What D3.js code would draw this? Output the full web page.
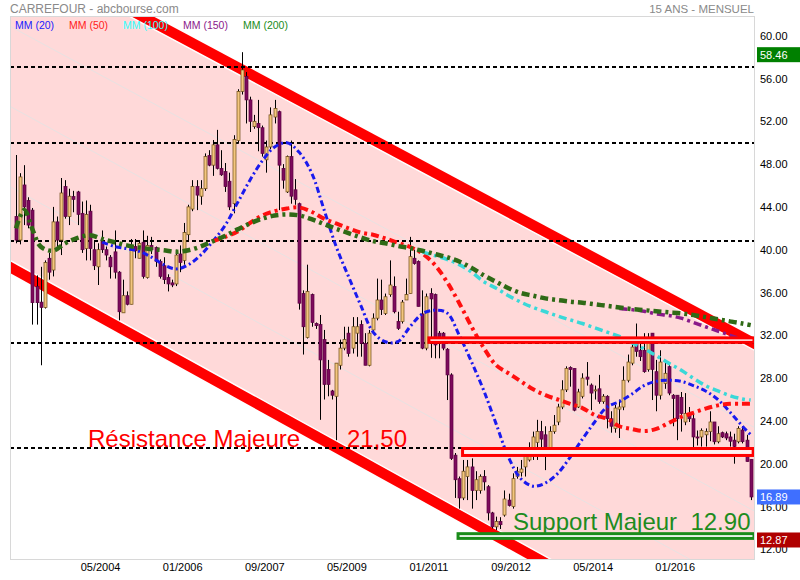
<!DOCTYPE html>
<html><head><meta charset="utf-8">
<script src="https://cdn.jsdelivr.net/npm/d3@7"></script>
<style>
body{margin:0;background:#fff;}
svg{display:block;font-family:Arial,"Liberation Sans",sans-serif;}
</style>
</head><body>
<svg id="chart" width="800" height="580"></svg>
<script>
// ---- DATA (monthly candles, month index 0 = 09/2002) ----
const opens = [43.1,40.9,46.05,44.6,43.7,36.55,35.1,34.6,39.2,38.1,42.6,40.9,45.9,43.1,44.96,45.4,43.4,40.1,43.6,40.0,
38.4,40.8,40.0,39.3,39.8,37.9,34.1,35.7,34.9,40.3,39.2,40.7,37.4,40.4,40.2,38.9,38.5,37.4,36.9,36.8,
39.6,39.0,41.4,43.8,45.9,45.0,45.7,48.8,47.9,49.8,47.6,47.3,46.4,44.3,50.2,54.8,56.2,54.0,51.5,51.8,
51.4,48.4,49.6,52.4,52.9,47.6,45.4,48.7,45.6,44.3,35.9,31.8,35.8,33.1,33.0,31.6,28.8,26.8,26.3,29.2,
30.8,32.2,30.8,32.2,33.0,31.25,29.2,32.5,33.6,35.3,34.05,35.8,36.55,33.3,33.3,35.3,35.9,39.2,38.9,34.0,
30.8,35.9,35.8,32.2,32.2,30.7,28.3,20.8,18.6,16.8,18.8,19.7,17.5,17.5,18.8,17.85,15.4,14.1,14.6,15.2,
16.6,16.0,18.8,19.2,19.7,20.35,21.0,22.0,23.0,22.7,21.3,23.0,23.9,25.3,26.9,29.0,28.9,25.3,26.3,28.1,
27.35,26.8,27.0,25.8,26.3,24.2,23.3,25.1,25.3,27.8,29.4,31.3,30.6,30.6,28.8,32.2,28.6,26.4,27.5,29.07,
26.4,26.4,26.2,23.9,24.5,24.2,22.5,22.5,22.7,23.0,23.9,22.05,22.9,22.8,22.5,22.2,22.05,23.15,22.2,20.4];
const highs = [48.85,47.15,47.9,44.9,43.9,37.6,38.4,39.0,39.7,44.0,43.1,46.7,46.5,45.7,45.5,45.5,44.5,44.6,44.2,40.9,
40.6,41.8,40.3,39.5,41.8,38.0,37.2,36.1,41.0,41.0,40.9,41.8,41.3,41.2,40.3,39.1,39.3,37.7,37.2,40.0,
40.4,42.5,44.2,46.5,46.5,46.5,49.0,49.3,50.25,51.2,49.3,48.1,47.2,50.7,55.0,58.46,56.6,54.3,52.6,54.0,
51.6,50.2,53.3,54.0,53.0,48.0,48.8,50.2,46.6,44.4,36.2,38.6,35.9,33.2,33.9,32.5,29.7,26.9,29.4,31.6,
32.8,32.8,33.7,33.7,33.4,32.2,32.5,34.05,37.3,37.2,35.9,39.0,37.5,34.2,35.3,37.3,41.2,40.0,39.0,36.2,
35.9,36.4,35.9,32.4,32.3,30.8,28.45,21.0,18.8,20.35,20.35,20.5,19.3,19.0,19.4,18.0,15.5,15.05,15.0,17.5,
17.2,19.1,19.7,20.35,21.3,22.0,23.0,24.1,24.0,23.5,23.5,24.55,25.6,27.8,29.1,29.1,28.9,27.0,28.45,29.5,
27.5,27.3,28.3,26.5,26.4,24.9,25.5,26.0,29.1,30.2,31.5,33.1,31.2,32.2,32.2,32.2,29.7,30.6,29.5,29.4,
26.5,26.4,26.7,26.6,25.3,24.7,23.1,23.3,23.3,24.9,23.9,23.5,23.0,23.0,23.0,22.8,23.5,23.5,22.7,20.4];
const lows = [40.6,40.5,42.3,42.0,33.0,33.0,29.2,34.5,37.2,37.5,40.0,39.5,42.9,42.3,43.5,42.3,39.7,39.0,39.0,38.1,
36.7,39.7,39.0,37.3,37.3,33.4,34.1,34.8,34.9,39.2,39.2,37.3,37.3,39.6,38.4,37.3,36.8,36.1,36.5,36.6,
37.9,38.6,40.9,43.6,43.7,44.2,45.5,47.8,46.9,47.5,46.9,45.4,43.7,43.4,49.9,54.5,51.8,51.0,51.3,49.2,
48.7,47.2,49.4,51.8,43.7,45.7,45.3,44.3,44.2,34.4,30.2,31.7,32.8,32.6,24.1,26.0,26.3,26.0,22.2,28.8,
30.6,30.0,30.3,30.0,30.0,29.2,29.1,32.3,33.4,33.9,33.9,35.6,34.05,32.5,33.1,35.3,35.9,38.6,34.7,30.7,
30.6,29.9,29.85,29.85,30.6,25.95,20.35,16.8,15.8,16.6,16.6,15.8,16.6,17.2,17.5,14.7,13.95,13.8,13.9,15.05,
16.0,15.8,18.6,18.8,18.8,20.2,20.35,20.35,21.3,19.4,21.0,22.8,23.6,25.1,26.7,27.2,24.9,25.2,26.1,27.3,
25.0,26.0,25.6,25.6,23.3,22.9,22.9,22.4,25.0,27.6,29.2,30.0,29.6,28.5,28.6,25.95,24.9,26.0,27.0,26.4,
23.5,22.2,23.0,23.6,23.9,20.8,21.7,21.6,21.6,22.1,21.8,21.9,22.4,22.2,21.6,20.0,21.9,21.9,20.2,16.6];
const closes = [40.9,46.8,44.0,42.3,35.05,35.05,34.6,38.8,37.9,42.6,40.9,45.3,43.1,45.0,44.7,43.3,40.0,43.3,40.1,38.5,
40.0,40.0,39.5,38.4,37.9,34.2,35.7,34.9,40.4,39.9,40.6,37.5,40.4,40.0,38.9,37.5,37.2,36.8,36.7,39.5,
38.8,41.6,44.0,45.9,45.1,45.7,48.7,47.9,49.8,47.6,47.0,45.9,44.0,50.3,54.8,56.8,54.0,52.0,52.0,51.4,
49.0,49.6,52.6,53.2,47.9,46.5,48.7,45.0,44.7,35.0,32.8,36.1,33.2,32.9,29.7,27.4,27.4,26.4,29.4,30.8,
31.6,30.3,32.8,32.8,31.25,29.2,32.2,33.6,35.3,34.4,35.6,36.7,34.2,32.65,35.1,35.8,39.35,38.7,34.7,30.8,
35.6,35.4,31.1,31.7,30.8,28.3,20.5,18.5,16.8,19.3,19.7,17.5,18.5,18.8,18.3,15.4,14.1,14.6,14.3,16.7,
16.1,18.6,19.25,19.5,20.7,21.0,22.5,23.0,22.3,21.3,23.0,23.6,25.3,26.9,28.9,28.8,25.0,26.7,28.0,27.9,
26.6,26.9,25.8,26.3,24.2,23.5,25.2,25.3,27.8,29.5,30.9,30.5,30.0,28.6,31.5,28.8,26.4,29.5,28.45,26.6,
26.1,24.2,24.7,24.7,24.2,22.5,22.4,23.1,23.0,23.9,22.05,22.8,22.5,22.4,22.1,21.6,23.3,22.06,20.2,16.89];

// moving averages, read at these month indices
const maMonths = [0,2,4,6,9,12,15,18,21,24,27,30,33,36,39,42,45,48,51,54,57,60,63,66,69,72,75,78,81,84,87,90,93,96,99,102,105,108,111,114,117,120,123,126,129,132,135,138,141,144,147,150,153,156,159,162,165,168,171,174,177,179];
const ma20 = [null,null,null,null,null,null,null,null,40.7,40.3,40.1,39.85,39.3,38.6,38.2,38.6,39.5,40.8,42.3,44.4,46.5,48.3,49.6,50.0,49.1,47.2,43.8,40.3,37.5,34.8,32.3,31.4,31.4,32.8,34.0,34.35,34.1,32.0,29.5,26.8,23.7,20.6,18.6,17.9,18.2,19.1,20.6,22.3,23.9,25.3,25.8,26.5,27.3,27.7,27.8,27.7,27.3,26.8,26.0,24.8,23.5,22.7];
const ma50 = [null,null,null,null,null,null,null,null,null,null,null,null,null,null,null,null,null,40.8,41.2,41.7,42.5,43.2,43.6,43.85,43.95,43.55,42.9,42.45,42.0,41.6,41.4,41.05,40.65,40.25,39.65,38.6,37.0,35.0,32.8,30.8,29.2,28.45,27.7,26.95,26.4,26.0,25.6,25.2,24.55,24.2,23.5,23.25,23.05,23.25,23.8,24.35,24.75,25.15,25.45,25.6,25.6,25.6];
const ma100 = [null,null,null,null,null,null,null,null,null,null,null,null,null,null,null,null,null,null,null,null,null,null,null,null,null,null,null,null,null,null,null,null,null,null,39.8,39.45,39.1,38.6,37.9,37.0,36.4,35.7,35.1,34.6,34.2,33.8,33.45,33.1,32.7,32.3,31.9,31.3,30.75,30.1,29.4,28.75,28.0,27.3,26.8,26.35,26.05,25.95];
const ma150 = [null,null,null,null,null,null,null,null,null,null,null,null,null,null,null,null,null,null,null,null,null,null,null,null,null,null,null,null,null,null,null,null,null,null,null,null,null,null,null,null,null,null,null,null,null,null,null,null,null,null,34.5,34.4,34.25,34.0,33.85,33.6,33.2,32.8,32.4,32.0,31.6,31.4];
const ma200 = [42.0,43.7,41.9,40.3,39.9,40.6,41.1,41.35,41.0,40.7,40.4,40.2,40.05,39.95,39.8,39.95,40.3,40.8,41.3,41.9,42.45,42.9,43.2,43.3,43.2,42.85,42.4,41.95,41.55,41.15,40.8,40.6,40.35,40.15,39.9,39.6,39.3,38.9,38.3,37.6,37.0,36.4,35.95,35.7,35.45,35.3,35.15,35.05,34.9,34.75,34.6,34.45,34.35,34.25,34.15,34.05,33.9,33.7,33.5,33.3,33.1,32.95];
const maNames = ["MM (20)","MM (50)","MM (100)","MM (150)","MM (200)"];

// axis ticks
const yTicks = [12,16,20,24,28,32,36,40,44,48,52,56,60];
const xTickMonths = [20,40,60,80,100,120,140,160];
const xTickLabels = ["05/2004","01/2006","09/2007","05/2009","01/2011","09/2012","05/2014","01/2016"];

// drawn analysis: channel anchors [month, price], horizontal levels, zones
const upperChannel = [[30.4,61.85],[179.9,31.2]];
const lowerChannel = [[-1.34,38.38],[129.1,10.72]];
const channelInner = [0.25,0.5,0.75];
const dashedLevels = [57.05,50.0,40.8,31.3,21.45];
const zoneStart = [100.6,108.8,107.7];
const zoneEnd = [179.8,179.6,179.8];
const zoneHigh = [31.9,21.56,13.6];
const zoneLow = [31.2,20.63,12.88];
const priceTags = [58.46,16.89,12.87];
const annotations = ["Résistance Majeure","21,50","Support Majeur  12.90"];

// ---- DRAW ----
const svg = d3.select("#chart");
const P = {l:10, r:754, t:17, b:560};
const x = d3.scaleLinear().domain([0,179]).range([16,750.7]);
const y = d3.scaleLinear().domain([12,60]).range([549.3,35.7]);

svg.append("rect").attr("width",800).attr("height",580).attr("fill","#fff");
svg.append("defs").append("clipPath").attr("id","clip").append("rect")
  .attr("x",P.l).attr("y",P.t).attr("width",P.r-P.l).attr("height",P.b-P.t);
const g = svg.append("g").attr("clip-path","url(#clip)");

function chAt(ch,m){const [[m1,v1],[m2,v2]]=ch;return v1+(v2-v1)*(m-m1)/(m2-m1);}
const mL = x.invert(P.l-30), mR = x.invert(P.r+30);
const upL=chAt(upperChannel,mL), upR=chAt(upperChannel,mR), loL=chAt(lowerChannel,mL), loR=chAt(lowerChannel,mR);

// channel fill
g.append("path")
 .attr("d",`M${x(mL)},${y(upL)}L${x(mR)},${y(upR)}L${x(mR)},${y(loR)}L${x(mL)},${y(loL)}Z`)
 .attr("fill","#ffd9d9");
// inner faint lines
channelInner.forEach(f=>{
  g.append("line").attr("x1",x(mL)).attr("y1",y(upL+(loL-upL)*f)).attr("x2",x(mR)).attr("y2",y(upR+(loR-upR)*f))
   .attr("stroke","#e8e2e2").attr("stroke-width",1);
});
// channel bands (solid red with a light edge on the channel side)
[[upL,upR,1],[loL,loR,-1]].forEach(([a,b,s])=>{
  g.append("line").attr("x1",x(mL)).attr("y1",y(a)).attr("x2",x(mR)).attr("y2",y(b))
   .attr("stroke","#ff0000").attr("stroke-width",11);
  g.append("line").attr("x1",x(mL)).attr("y1",y(a)+s*6.4).attr("x2",x(mR)).attr("y2",y(b)+s*6.4)
   .attr("stroke","#ffffff").attr("stroke-width",1.4);
});
// dashed levels
dashedLevels.forEach(v=>{
  g.append("line").attr("x1",P.l).attr("x2",P.r).attr("y1",Math.round(y(v))).attr("y2",Math.round(y(v)))
   .attr("stroke","#000").attr("stroke-width",2).attr("stroke-dasharray","4,3");
});

// candles
const candles = g.append("g");
closes.forEach((c,i)=>{
  const o=opens[i], h=highs[i], l=lows[i];
  const cx = Math.round(x(i))+0.5;
  const up = c>=o;
  candles.append("line").attr("x1",cx).attr("x2",cx).attr("y1",y(h)).attr("y2",y(l))
    .attr("stroke","#000").attr("stroke-width",1);
  const top=y(Math.max(o,c)), bot=y(Math.min(o,c));
  candles.append("rect").attr("x",cx-1.5).attr("width",3).attr("y",top).attr("height",Math.max(1,bot-top))
    .attr("fill",up?"#f4c67f":"#7d0a5c").attr("stroke",up?"#6b4a14":"#5a0040").attr("stroke-width",0.7);
});

// moving averages
const maSeries = [ma20,ma50,ma100,ma150,ma200];
const maColors = ["#1a1aee","#ff1010","#3ad8d8","#8a1a8a","#2f6a16"];
const maWidths = [3,4,3.5,3.5,4.5];
const maDash = ["6,3,2,3","8,4,3,4","8,4,3,4","8,4,3,4","8,4,3,4"];
const lineGen = d3.line().defined(d=>d[1]!=null).x(d=>x(d[0])).y(d=>y(d[1])).curve(d3.curveCatmullRom.alpha(0.5));
maSeries.forEach((s,k)=>{
  g.append("path").datum(maMonths.map((m,j)=>[m,s[j]])).attr("d",lineGen)
   .attr("fill","none").attr("stroke",maColors[k]).attr("stroke-width",maWidths[k])
   .attr("stroke-dasharray",maDash[k]);
});

// zones
zoneStart.forEach((s,k)=>{
  const col = k===2?"#1a8c1a":"#ff0000";
  g.append("rect").attr("x",x(s)).attr("width",x(zoneEnd[k])-x(s))
   .attr("y",y(zoneHigh[k])+1.5).attr("height",y(zoneLow[k])-y(zoneHigh[k])-3)
   .attr("fill",k===2?"#ffffff":"#fff0f0").attr("stroke",col).attr("stroke-width",3);
});

// annotations
svg.append("text").attr("x",88).attr("y",447).attr("font-size",24).attr("fill","#ff0000").text(annotations[0]);
svg.append("text").attr("x",347).attr("y",447).attr("font-size",24).attr("fill","#ff0000").text(annotations[1]);
svg.append("text").attr("x",513).attr("y",530).attr("font-size",24).attr("fill","#1e8c1e")
   .style("white-space","pre").text(annotations[2]);

// frame
svg.append("rect").attr("x",P.l+0.5).attr("y",P.t-0.5).attr("width",P.r-P.l).attr("height",P.b-P.t)
   .attr("fill","none").attr("stroke","#d8d8d8");

// header
svg.append("text").attr("x",10).attr("y",13).attr("font-size",12).attr("fill","#8a8a8a").text("CARREFOUR - abcbourse.com");
svg.append("text").attr("x",754).attr("y",13).attr("font-size",11.5).attr("fill","#8a8a8a").attr("text-anchor","end").text("15 ANS - MENSUEL");

// legend
const legX = [15,69,123,183,243];
const legCol = ["#2020ff","#ff2020","#33ffff","#8b1a8b","#1a8c1a"];
maNames.forEach((n,k)=>svg.append("text").attr("x",legX[k]).attr("y",29).attr("font-size",10.5).attr("fill",legCol[k]).text(n));

// y axis
const yAxis = d3.axisRight(y).tickValues(yTicks).tickFormat(d3.format(".2f")).tickSize(0).tickPadding(0);
const ya = svg.append("g").attr("transform",`translate(760,0)`).call(yAxis);
ya.select(".domain").remove();
ya.selectAll("text").attr("font-size",11).attr("font-family","Arial,'Liberation Sans',sans-serif").attr("fill","#000").attr("x",0);

// x axis
const xAxis = d3.axisBottom(x).tickValues(xTickMonths).tickFormat((d,i)=>xTickLabels[i]).tickSize(0).tickPadding(0);
const xa = svg.append("g").attr("transform",`translate(2,563)`).call(xAxis);
xa.select(".domain").remove();
xa.selectAll("text").attr("font-size",11).attr("font-family","Arial,'Liberation Sans',sans-serif").attr("fill","#000");

// price tags
const tagCol = ["#008000","#3f6fff","#b00000"];
priceTags.forEach((v,k)=>{
  const cy = y(v) + (k===0?2.5:0);
  svg.append("rect").attr("x",757).attr("y",cy-7.5).attr("width",43).attr("height",15).attr("fill",tagCol[k]);
  svg.append("text").attr("x",760).attr("y",cy+4).attr("font-size",11).attr("fill","#fff").text(v.toFixed(2));
});
</script>
</body></html>
